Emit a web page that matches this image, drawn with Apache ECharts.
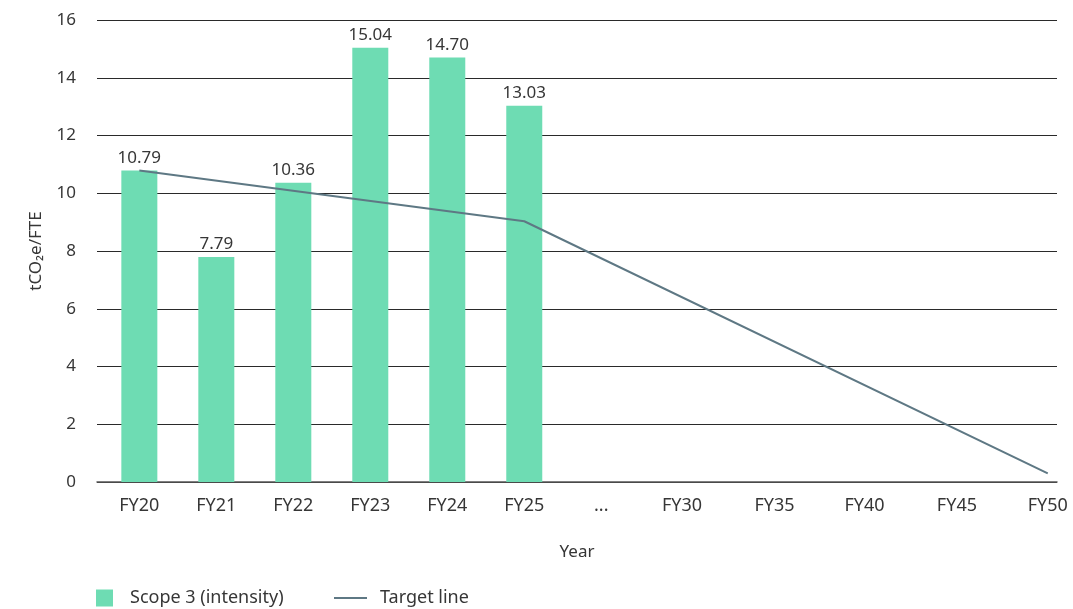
<!DOCTYPE html>
<html>
<head>
<meta charset="utf-8">
<title>Scope 3 emissions intensity</title>
<script src="https://cdn.jsdelivr.net/npm/echarts@6/dist/echarts.min.js"></script>
<style>
  html, body { margin: 0; padding: 0; background: #ffffff; }
  #chart { width: 1073px; height: 609px; }
</style>
</head>
<body>
<div id="chart"></div>
<script>
// Year labels along the horizontal axis
const categories = ['FY20', 'FY21', 'FY22', 'FY23', 'FY24', 'FY25', '...', 'FY30', 'FY35', 'FY40', 'FY45', 'FY50'];

// Scope 3 intensity (tCO2e/FTE), reported years FY20–FY25
const scope3Years = ['FY20', 'FY21', 'FY22', 'FY23', 'FY24', 'FY25'];
const scope3Values = [10.79, 7.79, 10.36, 15.04, 14.70, 13.03];

// Target trajectory anchor points
const targetYears = ['FY20', 'FY25', 'FY50'];
const targetValues = [10.79, 9.03, 0.3];

// Y axis range
const yMin = 0, yMax = 16, yStep = 2;

// Horizontal placement of each year slot on the axis (annual steps are
// narrower than the five-year steps after the break)
const slotPos = [0.55, 1.55, 2.55, 3.55, 4.55, 5.55, 6.55, 7.6, 8.8, 9.97, 11.17, 12.35];
const axisMax = 12.47;

const posOf = (name) => slotPos[categories.indexOf(name)];
const labelOf = (v) => {
  for (let i = 0; i < slotPos.length; i++) {
    if (Math.abs(slotPos[i] - v) < 1e-6) return categories[i];
  }
  return '';
};

const FONT = '"Noto Sans", "Open Sans", sans-serif';
const TEXT = '#363636';
const BAR = '#6edcb3';
const LINE = '#5e7884';

const chart = echarts.init(document.getElementById('chart'), null, { renderer: 'canvas' });

chart.setOption({
  animation: false,
  backgroundColor: '#ffffff',
  textStyle: { fontFamily: FONT, color: TEXT },
  grid: { left: 97, right: 16, top: 20, bottom: 127, containLabel: false },
  legend: [
    {
      left: 96, top: 589, padding: 0,
      itemWidth: 17, itemHeight: 17,
      data: [{ name: 'Scope 3 (intensity)', icon: 'rect' }],
      textStyle: { fontFamily: FONT, fontSize: 18, color: TEXT, padding: [0, 0, 0, 12] }
    },
    {
      left: 334, top: 589, padding: 0,
      itemWidth: 33, itemHeight: 2,
      data: [{ name: 'Target line', icon: 'rect' }],
      itemStyle: { color: LINE },
      textStyle: { fontFamily: FONT, fontSize: 18, color: TEXT, padding: [0, 0, 0, 8] }
    }
  ],
  xAxis: {
    type: 'value',
    min: 0,
    max: axisMax,
    name: 'Year',
    nameLocation: 'middle',
    nameGap: 62,
    nameTextStyle: { fontFamily: FONT, fontSize: 17, color: TEXT },
    axisLine: { show: true, onZero: false, lineStyle: { color: '#555555', width: 1.5 } },
    axisTick: { show: false },
    splitLine: { show: false },
    axisLabel: {
      customValues: slotPos,
      formatter: labelOf,
      margin: 15,
      fontFamily: FONT, fontSize: 18, color: TEXT
    }
  },
  yAxis: {
    type: 'value',
    min: yMin, max: yMax, interval: yStep,
    name: 'tCO₂e/FTE',
    nameLocation: 'middle',
    nameRotate: 90,
    nameGap: 52,
    nameTextStyle: { fontFamily: FONT, fontSize: 17, color: TEXT },
    axisLine: { show: false },
    axisTick: { show: false },
    axisLabel: { margin: 21, fontFamily: FONT, fontSize: 17, color: TEXT },
    splitLine: { show: true, lineStyle: { color: '#2a2a2a', width: 1 } }
  },
  series: [
    {
      name: 'Scope 3 (intensity)',
      type: 'bar',
      barWidth: 36,
      itemStyle: { color: BAR },
      label: {
        show: true,
        position: 'top',
        distance: 4,
        fontFamily: FONT, fontSize: 17, color: TEXT,
        formatter: (p) => p.value[1].toFixed(2)
      },
      data: scope3Years.map((y, i) => [posOf(y), scope3Values[i]]),
      z: 2
    },
    {
      name: 'Target line',
      type: 'line',
      symbol: 'none',
      lineStyle: { color: LINE, width: 2 },
      itemStyle: { color: LINE },
      data: targetYears.map((y, i) => [posOf(y), targetValues[i]]),
      z: 3
    }
  ]
});
</script>
</body>
</html>
